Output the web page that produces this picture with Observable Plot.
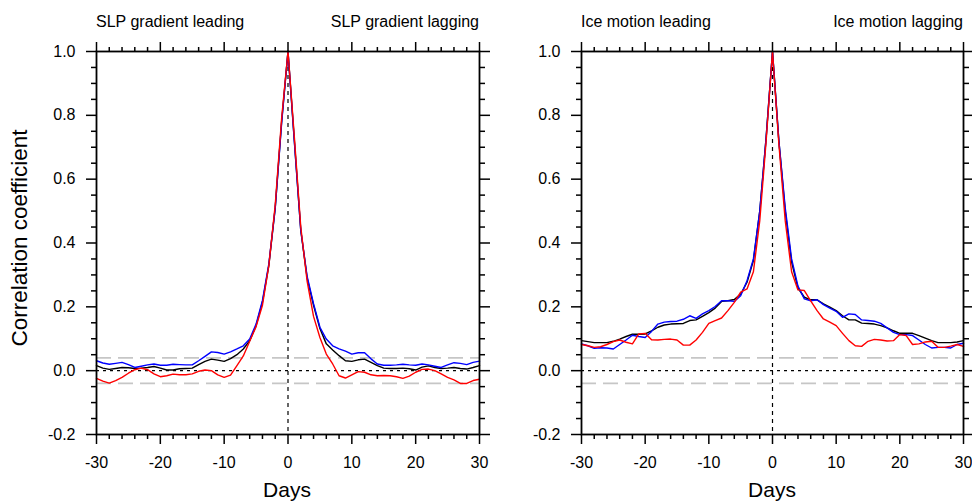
<!DOCTYPE html>
<html>
<head>
<meta charset="utf-8">
<script src="https://cdn.jsdelivr.net/npm/d3@7"></script>
<script src="https://cdn.jsdelivr.net/npm/@observablehq/plot@0.6"></script>
<style>
  html, body { margin: 0; padding: 0; background: white; }
  #wrap { position: relative; width: 972px; height: 501px; overflow: hidden; font-family: "Liberation Sans", Arial, Helvetica, sans-serif; color: black; }
  .panel { position: absolute; top: 0; }
  .lbl { position: absolute; white-space: nowrap; }
  .title { font-size: 16px; line-height: 16px; }
</style>
</head>
<body>
<div id="wrap"></div>
<script>
// ---- Data ----
const days = [-30,-29,-28,-27,-26,-25,-24,-23,-22,-21,-20,-19,-18,-17,-16,-15,-14,-13,-12,-11,-10,-9,-8,-7,-6,-5,-4,-3,-2,-1,0,1,2,3,4,5,6,7,8,9,10,11,12,13,14,15,16,17,18,19,20,21,22,23,24,25,26,27,28,29,30];

// Left panel: SLP gradient
const slpBlack = [0.016,0.008,0.004,0.007,0.010,0.009,0.007,0.008,0.010,0.013,0.008,0.002,0.002,0.006,0.007,0.008,0.019,0.029,0.036,0.033,0.029,0.038,0.050,0.068,0.094,0.141,0.215,0.33,0.51,0.78,1.0,0.72,0.44,0.29,0.205,0.132,0.084,0.065,0.047,0.031,0.029,0.034,0.036,0.026,0.016,0.008,0.007,0.007,0.008,0.006,0.002,0.011,0.015,0.010,0.007,0.008,0.010,0.007,0.005,0.010,0.016];
const slpBlue = [0.031,0.024,0.020,0.023,0.026,0.019,0.010,0.014,0.018,0.021,0.017,0.017,0.020,0.019,0.018,0.018,0.031,0.045,0.059,0.057,0.052,0.059,0.068,0.078,0.099,0.146,0.22,0.335,0.51,0.775,1.0,0.715,0.44,0.295,0.21,0.136,0.099,0.078,0.068,0.061,0.052,0.056,0.056,0.037,0.021,0.017,0.017,0.018,0.020,0.018,0.017,0.021,0.018,0.014,0.010,0.018,0.025,0.023,0.019,0.026,0.030];
const slpRed = [-0.024,-0.033,-0.039,-0.031,-0.021,-0.008,0.003,0.008,0.003,-0.010,-0.019,-0.016,-0.011,-0.013,-0.013,-0.010,-0.002,0.002,0.000,-0.013,-0.021,-0.014,0.016,0.046,0.092,0.138,0.205,0.33,0.52,0.79,1.0,0.73,0.45,0.28,0.17,0.104,0.052,0.021,-0.016,-0.023,-0.013,-0.003,-0.005,-0.013,-0.016,-0.015,-0.016,-0.019,-0.024,-0.017,-0.005,0.004,0.005,0.000,-0.010,-0.021,-0.029,-0.040,-0.040,-0.031,-0.027];

// Right panel: Ice motion
const iceBlack = [0.094,0.091,0.088,0.088,0.088,0.092,0.099,0.107,0.114,0.114,0.115,0.125,0.136,0.143,0.146,0.147,0.148,0.157,0.159,0.170,0.182,0.196,0.217,0.219,0.223,0.240,0.277,0.345,0.50,0.73,1.0,0.72,0.50,0.34,0.259,0.230,0.222,0.222,0.209,0.199,0.188,0.172,0.159,0.159,0.149,0.148,0.146,0.141,0.134,0.125,0.117,0.117,0.117,0.110,0.102,0.094,0.088,0.088,0.088,0.090,0.094];
const iceBlue = [0.084,0.078,0.070,0.072,0.071,0.068,0.082,0.096,0.111,0.107,0.104,0.123,0.146,0.152,0.154,0.155,0.161,0.172,0.164,0.178,0.188,0.201,0.219,0.219,0.217,0.235,0.282,0.35,0.50,0.73,1.0,0.72,0.51,0.35,0.265,0.225,0.219,0.222,0.207,0.196,0.186,0.167,0.178,0.176,0.159,0.157,0.155,0.148,0.134,0.120,0.113,0.113,0.110,0.096,0.082,0.071,0.073,0.073,0.071,0.082,0.086];
const iceRed = [0.082,0.078,0.073,0.075,0.082,0.091,0.096,0.089,0.084,0.115,0.117,0.097,0.096,0.098,0.099,0.096,0.080,0.080,0.096,0.120,0.148,0.157,0.165,0.188,0.214,0.246,0.256,0.31,0.47,0.72,1.0,0.71,0.47,0.31,0.253,0.251,0.219,0.188,0.162,0.152,0.141,0.117,0.094,0.078,0.076,0.092,0.098,0.096,0.093,0.094,0.113,0.110,0.082,0.084,0.090,0.092,0.073,0.073,0.077,0.082,0.076];

// Ticks and labels
const xMajor = [-30,-20,-10,0,10,20,30];
const xMinor = [-28,-26,-24,-22,-18,-16,-14,-12,-8,-6,-4,-2,2,4,6,8,12,14,16,18,22,24,26,28];
const yMajor = [-0.2,0.0,0.2,0.4,0.6,0.8,1.0];
const yMinor = [-0.15,-0.1,-0.05,0.05,0.1,0.15,0.25,0.3,0.35,0.45,0.5,0.55,0.65,0.7,0.75,0.85,0.9,0.95];
const sigLevels = [0.04,-0.04];
const panelTitles = [["SLP gradient leading","SLP gradient lagging"],["Ice motion leading","Ice motion lagging"]];
const xLabel = "Days";
const yLabel = "Correlation coefficient";

// ---- Drawing ----
const FONT = '"Liberation Sans", Arial, Helvetica, sans-serif';
function rows(vals) { return days.map((d, i) => ({day: d, r: vals[i]})); }

function panel(series, width, marginLeft, marginRight) {
  const ax = {label: null, strokeWidth: 1.5};
  return Plot.plot({
    width, height: 501,
    marginLeft, marginRight, marginTop: 51, marginBottom: 67,
    x: {domain: [-30, 30]},
    y: {domain: [-0.2, 1.0]},
    style: {fontFamily: FONT, fontSize: "16px", color: "black", background: "white", overflow: "visible"},
    marks: [
      Plot.ruleY(sigLevels, {stroke: "#c6c6c6", strokeWidth: 1.7, strokeDasharray: "15,7"}),
      Plot.ruleY([0], {stroke: "black", strokeWidth: 1.2, strokeDasharray: "3,4"}),
      Plot.ruleX([0], {stroke: "black", strokeWidth: 1.2, strokeDasharray: "4,4"}),
      Plot.line(rows(series[0]), {x: "day", y: "r", stroke: "black", strokeWidth: 1.4}),
      Plot.line(rows(series[1]), {x: "day", y: "r", stroke: "#0000ff", strokeWidth: 1.4}),
      Plot.line(rows(series[2]), {x: "day", y: "r", stroke: "#ff0000", strokeWidth: 1.4}),
      Plot.frame({stroke: "black", strokeWidth: 1.8}),
      Plot.axisX({...ax, anchor: "bottom", ticks: xMajor, tickSize: 10, tickPadding: 12, tickFormat: d => String(d), fontSize: 16}),
      Plot.axisX({...ax, anchor: "bottom", ticks: xMinor, tickSize: 5, tickFormat: () => ""}),
      Plot.axisX({...ax, anchor: "top", ticks: xMajor, tickSize: 10, tickFormat: () => ""}),
      Plot.axisX({...ax, anchor: "top", ticks: xMinor, tickSize: 5, tickFormat: () => ""}),
      Plot.axisY({...ax, anchor: "left", ticks: yMajor, tickSize: 10, tickPadding: 11, tickFormat: d => d.toFixed(1), fontSize: 16}),
      Plot.axisY({...ax, anchor: "left", ticks: yMinor, tickSize: 5, tickFormat: () => ""}),
      Plot.axisY({...ax, anchor: "right", ticks: yMajor, tickSize: 10, tickFormat: () => ""}),
      Plot.axisY({...ax, anchor: "right", ticks: yMinor, tickSize: 5, tickFormat: () => ""})
    ]
  });
}

const wrap = document.getElementById("wrap");
const left = panel([slpBlack, slpBlue, slpRed], 500, 96, 21);
left.classList.add("panel"); left.style.left = "0px";
const right = panel([iceBlack, iceBlue, iceRed], 472, 81, 9);
right.classList.add("panel"); right.style.left = "500px";
wrap.appendChild(left);
wrap.appendChild(right);

function addLabel(text, css) {
  const d = document.createElement("div");
  d.className = "lbl";
  d.textContent = text;
  Object.assign(d.style, css);
  wrap.appendChild(d);
  return d;
}
// Panel titles
addLabel(panelTitles[0][0], {left: "96px", top: "14px", fontSize: "16px", lineHeight: "16px"});
addLabel(panelTitles[0][1], {right: (972 - 479) + "px", top: "14px", fontSize: "16px", lineHeight: "16px"});
addLabel(panelTitles[1][0], {left: "581px", top: "14px", fontSize: "16px", lineHeight: "16px"});
addLabel(panelTitles[1][1], {right: (972 - 963) + "px", top: "14px", fontSize: "16px", lineHeight: "16px"});
// Axis titles
addLabel(xLabel, {left: "287px", top: "479px", fontSize: "21px", lineHeight: "21px", transform: "translateX(-50%)"});
addLabel(xLabel, {left: "772px", top: "479px", fontSize: "21px", lineHeight: "21px", transform: "translateX(-50%)"});
addLabel(yLabel, {left: "20px", top: "238px", fontSize: "22.5px", lineHeight: "22.5px", transform: "translate(-50%,-50%) rotate(-90deg)"});
</script>
</body>
</html>
